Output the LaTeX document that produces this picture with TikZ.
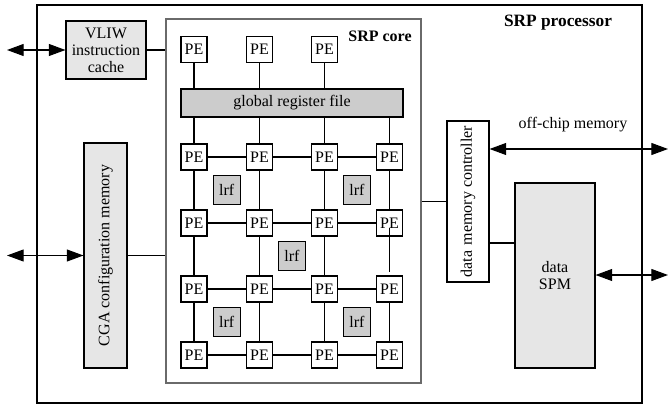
\documentclass[tikz,border=0pt]{standalone}
\usepackage{fontspec}
\setmainfont{Liberation Serif}
\usetikzlibrary{arrows.meta,calc}
\definecolor{lightfill}{HTML}{E6E6E6}
\definecolor{darkfill}{HTML}{CCCCCC}
\definecolor{coregray}{HTML}{6A6A6A}
\begin{document}
\begin{tikzpicture}[x=0.75pt,y=-0.75pt,
  every node/.style={font=\fontsize{12}{12.75}\selectfont},
  line/.style={draw=black,line width=0.8pt},
  pe/.style={draw=black,line width=0.8pt,fill=white,minimum size=19.5pt,inner sep=0pt},
  lrf/.style={draw=black,line width=0.8pt,fill=darkfill,minimum width=20.25pt,minimum height=21.75pt,inner sep=0pt},
  blockbox/.style={draw=black,line width=0.8pt,inner sep=0pt,align=center},
  biarrow/.style={line width=0.8pt,{Triangle[length=12.5pt,width=9pt]}-{Triangle[length=12.5pt,width=9pt]}}
]
\useasboundingbox (0,0) rectangle (668,410);
% outer and core boxes
\node[draw=black,line width=0.8pt,minimum width=453.75pt,minimum height=298.5pt,inner sep=0pt] (outer) at (339.5,204) {};
\node[draw=coregray,line width=0.8pt,minimum width=191.25pt,minimum height=273pt,inner sep=0pt] (core) at (293.5,201) {};
\node[font=\fontsize{13}{14}\selectfont\bfseries] (ptitle) at (558,23) {SRP processor};
\node[font=\fontsize{12}{13}\selectfont\bfseries] (ctitle) at (380,36) {SRP core};
% side blocks
\node[blockbox,fill=lightfill,minimum width=60pt,minimum height=43.5pt] (vliw) at (106,50) {VLIW\\instruction\\cache};
\node[blockbox,fill=lightfill,minimum width=32.25pt,minimum height=168.75pt] (cga) at (105.5,255.5) {};
\node[rotate=90] (cgatext) at (cga.center) {CGA configuration memory};
\node[blockbox,fill=white,minimum width=31.5pt,minimum height=120.75pt] (dmc) at (468,201.5) {};
\node[rotate=90] (dmctext) at (dmc.center) {data\,\,memory controller};
\node[blockbox,fill=lightfill,minimum width=60pt,minimum height=138.75pt] (spm) at (555,275.5) {};
\node[align=center] (spmtext) at (555,276) {data\\SPM};
\node (offtext) at (573,125) {off-chip memory};
% global register file
\node[blockbox,fill=darkfill,minimum width=166.5pt,minimum height=21pt] (grf) at (292,103) {global register file};
% top PEs
\node[pe] (t1) at (194,49.5) {PE};
\node[pe] (t2) at (259.5,49.5) {PE};
\node[pe] (t3) at (324.5,49.5) {PE};
% grid PEs
\foreach \c/\x in {1/194,2/259.5,3/324.5,4/389.5}{
  \foreach \r/\y in {1/157,2/223,3/289,4/355}{
    \node[pe] (p\r\c) at (\x,\y) {PE};
  }
}
% lrf
\node[lrf] (l1) at (226.75,190) {lrf};
\node[lrf] (l2) at (357,190) {lrf};
\node[lrf] (l3) at (292,256) {lrf};
\node[lrf] (l4) at (226.75,322) {lrf};
\node[lrf] (l5) at (357,322) {lrf};
% connections top PEs to GRF
\foreach \i in {1,2,3}{
  \draw[line] (t\i) -- (t\i |- grf.north);
}
\foreach \i in {1,2,3,4}{
  \draw[line] (p1\i |- grf.south) -- (p1\i);
}
% horizontal grid lines
\foreach \r in {1,2,3,4}{
  \draw[line] (p\r1) -- (p\r2);
  \draw[line] (p\r2) -- (p\r3);
  \draw[line] (p\r3) -- (p\r4);
}
% vertical grid lines
\foreach \c in {1,2,3}{
  \draw[line] (p1\c) -- (p2\c);
  \draw[line] (p2\c) -- (p3\c);
  \draw[line] (p3\c) -- (p4\c);
}
\draw[line] (p14) -- (p24);
\coordinate (c4a) at ($(p24.center)+(0,5)$);
\coordinate (c4b) at ($(p34.north)+(0,-3.5)$);
\draw[line] (c4a) -- (c4b);
\draw[line] (p34) -- (p44);
% links between blocks
\draw[line] (vliw.east) -- (vliw.east -| core.west);
\draw[line] (cga.east) -- (cga.east -| core.west);
\draw[line] (dmc.west -| core.east) -- (dmc.west);
\coordinate (dsy) at (0,243);
\draw[line] (dsy -| dmc.east) -- (dsy -| spm.west);
% external arrows
\coordinate (vin) at (7,50);
\draw[biarrow] (vin) -- (vliw.west);
\coordinate (cin) at (7,255.5);
\draw[biarrow] (cin) -- (cga.west);
\coordinate (offc) at (668,149);
\draw[biarrow] (offc -| dmc.east) -- (offc);
\coordinate (spmo) at (668,275);
\draw[biarrow] (spmo -| spm.east) -- (spmo);
\end{tikzpicture}
\end{document}
